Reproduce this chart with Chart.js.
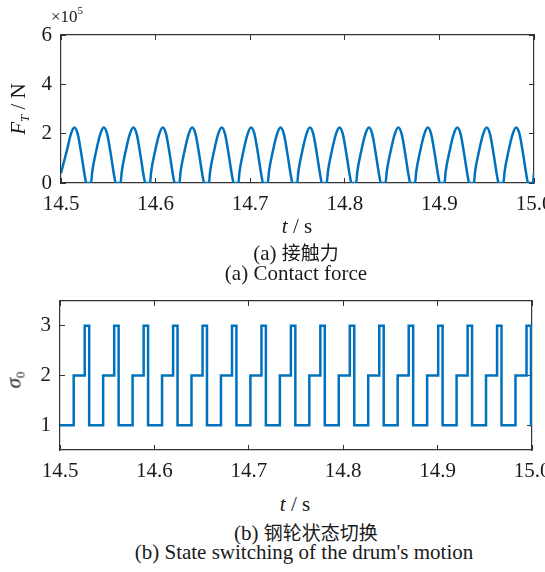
<!DOCTYPE html>
<html>
<head>
<meta charset="utf-8">
<script src="https://cdn.jsdelivr.net/npm/chart.js@4.4.1/dist/chart.umd.min.js"></script>
<style>
html, body { margin: 0; padding: 0; background: #fff; }
body { width: 545px; height: 572px; position: relative; overflow: hidden;
       font-family: "Liberation Serif", "Noto Sans CJK SC", serif; color: #1a1a1a; }
.box { position: absolute; left: 0; width: 545px; }
.txt { position: absolute; white-space: nowrap; transform: translate(-50%, -50%);
       font-size: 21px; line-height: 1; }
.rot { transform: translate(-50%, -50%) rotate(-90deg); }
.sub { font-size: 13px; position: relative; top: 4px; }
.cn { font-family: "Noto Sans CJK SC", sans-serif; font-size: 19px; }
.gr { font-family: "Liberation Serif", serif; font-style: italic; font-weight: normal; }
</style>
</head>
<body>
<div class="box" style="top:0;height:215px"><canvas id="forceChart"></canvas></div>
<div class="box" style="top:280px;height:210px"><canvas id="stateChart"></canvas></div>

<div style="position:absolute;left:51px;top:8px;font-size:17px;line-height:1;white-space:nowrap">&times;10<span style="font-size:11px;position:relative;top:-8px">5</span></div>
<div class="txt rot" style="left:18px;top:109px"><i>F</i><span class="sub"><i>T</i></span> / N</div>
<div class="txt" style="left:297px;top:226px"><i>t</i> / s</div>
<div class="txt" style="left:296px;top:253px">(a) <span class="cn">接触力</span></div>
<div class="txt" style="left:296px;top:273px">(a) Contact force</div>

<div class="txt rot" style="left:14px;top:380px"><span class="gr">σ</span><span class="sub">0</span></div>
<div class="txt" style="left:295px;top:504px"><i>t</i> / s</div>
<div class="txt" style="left:306px;top:533px">(b) <span class="cn">钢轮状态切换</span></div>
<div class="txt" style="left:304px;top:552px">(b) State switching of the drum's motion</div>

<script>
// x axis (time, s)
var xTicks = [14.5, 14.6, 14.7, 14.8, 14.9, 15.0];
var xTickLabels = ['14.5', '14.6', '14.7', '14.8', '14.9', '15.0'];

// (a) contact force, in units of 1e5 N
var forceTicks = [0, 2, 4, 6];
var forceTime = [
    14.5000, 14.5061, 14.5106, 14.5141, 14.5176, 14.5216, 14.5251, 14.5268,
    14.5318, 14.5330, 14.5372, 14.5417, 14.5452, 14.5487, 14.5527, 14.5562, 14.5579,
    14.5630, 14.5642, 14.5684, 14.5729, 14.5764, 14.5799, 14.5839, 14.5874, 14.5891,
    14.5941, 14.5953, 14.5995, 14.6040, 14.6075, 14.6110, 14.6150, 14.6185, 14.6202,
    14.6252, 14.6264, 14.6306, 14.6351, 14.6386, 14.6421, 14.6461, 14.6496, 14.6513,
    14.6564, 14.6576, 14.6618, 14.6663, 14.6698, 14.6733, 14.6773, 14.6808, 14.6825,
    14.6875, 14.6887, 14.6929, 14.6974, 14.7009, 14.7044, 14.7084, 14.7119, 14.7136,
    14.7186, 14.7198, 14.7240, 14.7285, 14.7320, 14.7355, 14.7395, 14.7430, 14.7447,
    14.7497, 14.7509, 14.7551, 14.7596, 14.7631, 14.7666, 14.7706, 14.7741, 14.7758,
    14.7809, 14.7821, 14.7863, 14.7908, 14.7943, 14.7978, 14.8018, 14.8053, 14.8070,
    14.8120, 14.8132, 14.8174, 14.8219, 14.8254, 14.8289, 14.8329, 14.8364, 14.8381,
    14.8431, 14.8443, 14.8485, 14.8530, 14.8565, 14.8600, 14.8640, 14.8675, 14.8692,
    14.8743, 14.8755, 14.8797, 14.8842, 14.8877, 14.8912, 14.8952, 14.8987, 14.9004,
    14.9054, 14.9066, 14.9108, 14.9153, 14.9188, 14.9223, 14.9263, 14.9298, 14.9315,
    14.9365, 14.9377, 14.9419, 14.9464, 14.9499, 14.9534, 14.9574, 14.9609, 14.9626,
    14.9677, 14.9689, 14.9731, 14.9776, 14.9811, 14.9846, 14.9886, 14.9921, 14.9938,
    14.9988, 15.0000
];
var forceValue = [
    0.40, 1.30, 2.00, 2.25, 2.00, 1.15, 0.30, 0.00,
    0.00, 0.45, 1.30, 2.00, 2.25, 2.00, 1.15, 0.30, 0.00,
    0.00, 0.45, 1.30, 2.00, 2.25, 2.00, 1.15, 0.30, 0.00,
    0.00, 0.45, 1.30, 2.00, 2.25, 2.00, 1.15, 0.30, 0.00,
    0.00, 0.45, 1.30, 2.00, 2.25, 2.00, 1.15, 0.30, 0.00,
    0.00, 0.45, 1.30, 2.00, 2.25, 2.00, 1.15, 0.30, 0.00,
    0.00, 0.45, 1.30, 2.00, 2.25, 2.00, 1.15, 0.30, 0.00,
    0.00, 0.45, 1.30, 2.00, 2.25, 2.00, 1.15, 0.30, 0.00,
    0.00, 0.45, 1.30, 2.00, 2.25, 2.00, 1.15, 0.30, 0.00,
    0.00, 0.45, 1.30, 2.00, 2.25, 2.00, 1.15, 0.30, 0.00,
    0.00, 0.45, 1.30, 2.00, 2.25, 2.00, 1.15, 0.30, 0.00,
    0.00, 0.45, 1.30, 2.00, 2.25, 2.00, 1.15, 0.30, 0.00,
    0.00, 0.45, 1.30, 2.00, 2.25, 2.00, 1.15, 0.30, 0.00,
    0.00, 0.45, 1.30, 2.00, 2.25, 2.00, 1.15, 0.30, 0.00,
    0.00, 0.45, 1.30, 2.00, 2.25, 2.00, 1.15, 0.30, 0.00,
    0.00, 0.45, 1.30, 2.00, 2.25, 2.00, 1.15, 0.30, 0.00,
    0.00, 0.40
];

// (b) drum state, value holds until the next time
var stateTicks = [1, 2, 3];
var stateTime = [
    14.5000,
    14.5145, 14.5262, 14.5309,
    14.5457, 14.5574, 14.5621,
    14.5769, 14.5886, 14.5933,
    14.6081, 14.6198, 14.6245,
    14.6393, 14.6510, 14.6557,
    14.6705, 14.6822, 14.6869,
    14.7017, 14.7134, 14.7181,
    14.7329, 14.7446, 14.7493,
    14.7641, 14.7758, 14.7805,
    14.7953, 14.8070, 14.8117,
    14.8265, 14.8382, 14.8429,
    14.8577, 14.8694, 14.8741,
    14.8889, 14.9006, 14.9053,
    14.9201, 14.9318, 14.9365,
    14.9513, 14.9630, 14.9677,
    14.9825, 14.9942, 14.9989,
    15.0000
];
var stateValue = [
    1,
    2, 3, 1,  2, 3, 1,  2, 3, 1,  2, 3, 1,
    2, 3, 1,  2, 3, 1,  2, 3, 1,  2, 3, 1,
    2, 3, 1,  2, 3, 1,  2, 3, 1,  2, 3, 1,
    2, 3, 1,  2, 3, 1,  2, 3, 1,  2, 3, 1,
    1
];

var FONT = { family: '"Liberation Serif", serif', size: 21 };
var AXIS_COLOR = '#333333';
var TEXT_COLOR = '#1a1a1a';
var LINE_COLOR = '#0072BD';

function toPoints(xs, ys) {
    return xs.map(function(x, i) { return { x: x, y: ys[i] }; });
}

function axis(position, min, max, tickValues, labels, size) {
    var horizontal = position === 'top' || position === 'bottom';
    var showLabels = position === 'bottom' || position === 'left';
    return {
        type: 'linear',
        position: position,
        min: min,
        max: max,
        afterBuildTicks: function(scale) {
            scale.ticks = tickValues.map(function(v) { return { value: v }; });
        },
        ticks: {
            display: showLabels,
            font: FONT,
            color: TEXT_COLOR,
            padding: 14,
            maxRotation: 0,
            autoSkip: false,
            callback: function(value, index) { return labels[index]; }
        },
        grid: {
            drawOnChartArea: false,
            drawTicks: true,
            tickLength: -5,
            color: AXIS_COLOR,
            lineWidth: 1
        },
        border: { display: true, color: AXIS_COLOR, width: 1.2 },
        afterFit: function(scale) {
            if (horizontal) scale.height = size; else scale.width = size;
            scale.paddingLeft = 0;
            scale.paddingRight = 0;
            scale.paddingTop = 0;
            scale.paddingBottom = 0;
        }
    };
}

function createLineChart(id, times, values, yMin, yMax, yTicks, layout, lineOpts) {
    var ctx = document.getElementById(id).getContext('2d');
    var yLabels = yTicks.map(function(v) { return String(v); });
    var dataset = {
        data: toPoints(times, values),
        borderColor: LINE_COLOR,
        borderWidth: 2.5,
        pointRadius: 0,
        fill: false
    };
    for (var k in lineOpts) dataset[k] = lineOpts[k];

    return new Chart(ctx, {
        type: 'line',
        data: { datasets: [dataset] },
        options: {
            responsive: true,
            maintainAspectRatio: false,
            animation: false,
            layout: { padding: { left: 0, right: layout.right, top: layout.top, bottom: 0 } },
            plugins: { legend: { display: false }, tooltip: { enabled: false } },
            scales: {
                x: axis('bottom', 14.5, 15.0, xTicks, xTickLabels, layout.xHeight),
                x2: axis('top', 14.5, 15.0, xTicks, xTickLabels, 0),
                y: axis('left', yMin, yMax, yTicks, yLabels, layout.yWidth),
                y2: axis('right', yMin, yMax, yTicks, yLabels, 0)
            }
        }
    });
}

function drawCharts() {
    createLineChart('forceChart', forceTime, forceValue, 0, 6, forceTicks,
        { right: 11, top: 35, xHeight: 32, yWidth: 61 },
        { cubicInterpolationMode: 'monotone' });

    createLineChart('stateChart', stateTime, stateValue, 0.5, 3.5, stateTicks,
        { right: 13, top: 21, xHeight: 40, yWidth: 60 },
        { stepped: true });
}

// canvas text needs the serif face loaded first
Promise.all([
    document.fonts.load('21px "Liberation Serif"'),
    document.fonts.load('italic 21px "Liberation Serif"')
]).then(drawCharts, drawCharts);
</script>
</body>
</html>
